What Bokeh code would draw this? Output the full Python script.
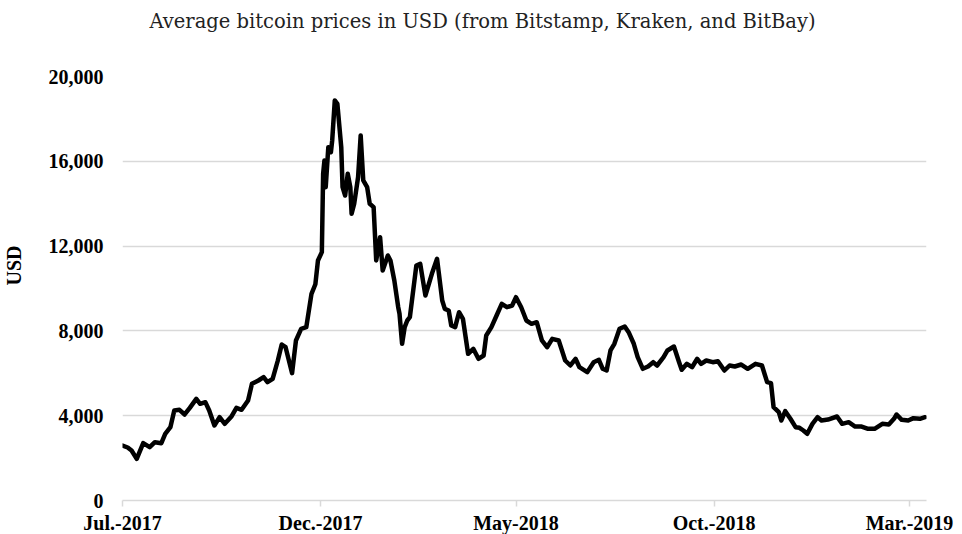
import pandas as pd
from bokeh.plotting import figure
from bokeh.models import (ColumnDataSource, FixedTicker, NumeralTickFormatter,
                          Range1d, Title)
from bokeh.embed import file_html
from bokeh.resources import INLINE

title_text = "Average bitcoin prices in USD (from Bitstamp, Kraken, and BitBay)"
y_label = "USD"

dates = [
    "2017-07-01", "2017-07-05", "2017-07-08", "2017-07-12", "2017-07-17", "2017-07-22",
    "2017-07-26", "2017-07-31", "2017-08-03", "2017-08-07", "2017-08-10", "2017-08-14",
    "2017-08-18", "2017-08-22", "2017-08-27", "2017-08-30", "2017-09-03", "2017-09-06",
    "2017-09-10", "2017-09-14", "2017-09-18", "2017-09-23", "2017-09-27", "2017-10-01",
    "2017-10-06", "2017-10-09", "2017-10-14", "2017-10-18", "2017-10-21", "2017-10-25",
    "2017-10-29", "2017-11-01", "2017-11-04", "2017-11-09", "2017-11-12", "2017-11-16",
    "2017-11-20", "2017-11-24", "2017-11-27", "2017-11-29", "2017-12-02", "2017-12-03",
    "2017-12-04", "2017-12-05", "2017-12-07", "2017-12-09", "2017-12-10", "2017-12-12",
    "2017-12-14", "2017-12-17", "2017-12-18", "2017-12-20", "2017-12-22", "2017-12-24",
    "2017-12-25", "2017-12-27", "2017-12-30", "2018-01-01", "2018-01-03", "2018-01-06",
    "2018-01-08", "2018-01-11", "2018-01-13", "2018-01-16", "2018-01-18", "2018-01-22",
    "2018-01-24", "2018-01-27", "2018-01-30", "2018-01-31", "2018-02-02", "2018-02-04",
    "2018-02-06", "2018-02-08", "2018-02-13", "2018-02-16", "2018-02-20", "2018-02-25",
    "2018-03-01", "2018-03-05", "2018-03-07", "2018-03-10", "2018-03-12", "2018-03-15",
    "2018-03-18", "2018-03-21", "2018-03-25", "2018-03-29", "2018-04-02", "2018-04-06",
    "2018-04-08", "2018-04-12", "2018-04-16", "2018-04-20", "2018-04-24", "2018-04-28",
    "2018-05-01", "2018-05-05", "2018-05-09", "2018-05-13", "2018-05-17", "2018-05-21",
    "2018-05-25", "2018-05-29", "2018-06-03", "2018-06-08", "2018-06-12", "2018-06-16",
    "2018-06-19", "2018-06-25", "2018-06-30", "2018-07-04", "2018-07-07", "2018-07-10",
    "2018-07-13", "2018-07-16", "2018-07-20", "2018-07-24", "2018-07-27", "2018-07-31",
    "2018-08-03", "2018-08-07", "2018-08-11", "2018-08-15", "2018-08-18", "2018-08-23",
    "2018-08-26", "2018-08-31", "2018-09-04", "2018-09-06", "2018-09-10", "2018-09-14",
    "2018-09-18", "2018-09-21", "2018-09-25", "2018-09-30", "2018-10-04", "2018-10-09",
    "2018-10-13", "2018-10-17", "2018-10-22", "2018-10-27", "2018-11-02", "2018-11-07",
    "2018-11-11", "2018-11-14", "2018-11-16", "2018-11-20", "2018-11-22", "2018-11-25",
    "2018-11-29", "2018-12-03", "2018-12-06", "2018-12-09", "2018-12-12", "2018-12-16",
    "2018-12-20", "2018-12-23", "2018-12-28", "2019-01-04", "2019-01-08", "2019-01-13",
    "2019-01-18", "2019-01-23", "2019-01-28", "2019-02-02", "2019-02-08", "2019-02-13",
    "2019-02-17", "2019-02-19", "2019-02-23", "2019-02-28", "2019-03-04", "2019-03-09",
    "2019-03-13",
]

prices = [
    2594, 2500, 2358, 1965, 2704, 2515,
    2751, 2704, 3145, 3459, 4245, 4277,
    4057, 4371, 4795, 4560, 4638, 4245,
    3538, 3930, 3616, 3950, 4371, 4277,
    4717, 5503, 5660, 5817, 5582, 5739,
    6604, 7359, 7231, 6006, 7548, 8098,
    8176, 9751, 10200, 11321, 11714, 15411,
    16038, 14779, 16666, 16430, 16981, 18868,
    18711, 16666, 14779, 14387, 15411, 14779,
    13524, 13996, 15254, 17217, 15096, 14779,
    13996, 13839, 11321, 12420, 10849, 11557,
    11321, 10378, 9118, 8807, 7392, 8176,
    8491, 8646, 11085, 11163, 9670, 10692,
    11400, 9434, 9041, 8962, 8255, 8176,
    8882, 8570, 6920, 7156, 6684, 6840,
    7783, 8176, 8726, 9278, 9118, 9198,
    9590, 9118, 8491, 8335, 8411, 7548,
    7231, 7627, 7548, 6604, 6368, 6684,
    6288, 6052, 6524, 6637, 6212, 6132,
    7076, 7392, 8098, 8208, 7939, 7392,
    6760, 6212, 6321, 6524, 6368, 6760,
    7076, 7264, 6524, 6165, 6448, 6288,
    6684, 6448, 6604, 6524, 6571, 6132,
    6368, 6321, 6415, 6212, 6448, 6368,
    5582, 5535, 4401, 4166, 3774, 4213,
    3854, 3459, 3428, 3302, 3145, 3616,
    3930, 3774, 3820, 3962, 3616, 3695,
    3490, 3490, 3380, 3380, 3616, 3585,
    3854, 4057, 3805, 3774, 3884, 3854,
    3930,
]

x_tick_dates = ["2017-07-01", "2017-12-01", "2018-05-01", "2018-10-01", "2019-03-01"]
x_tick_labels = ["Jul.-2017", "Dec.-2017", "May-2018", "Oct.-2018", "Mar.-2019"]
y_ticks = [0, 4000, 8000, 12000, 16000, 20000]

x_start = "2017-07-01"
x_end = "2019-03-14 03:00"

source = ColumnDataSource(data=dict(date=pd.to_datetime(dates), price=prices))

def ms(s):
    return float(pd.Timestamp(s).value // 10**6)

p = figure(frame_width=804, frame_height=424, x_axis_type="datetime",
           output_backend="svg", toolbar_location=None,
           x_range=Range1d(ms(x_start), ms(x_end)),
           y_range=Range1d(0, 20000),
           min_border_left=121, min_border_right=37,
           min_border_top=76, min_border_bottom=34)

p.outline_line_color = None
p.background_fill_color = "white"
p.border_fill_color = "white"

p.line(x="date", y="price", source=source, line_width=4.5, line_color="black",
       line_join="round", line_cap="round")

serif = "Liberation Serif"

# spacer between frame and title, then the title itself
p.add_layout(Title(text=" ", text_font_size="1px", standoff=41), "above")
p.add_layout(Title(text=title_text, align="left", offset=27, standoff=0,
                   text_font="DejaVu Serif", text_font_size="19.5px",
                   text_font_style="normal", text_color="#222222"), "above")

# x axis
tick_vals = [ms(d) for d in x_tick_dates]
p.xaxis.ticker = FixedTicker(ticks=tick_vals)
p.xaxis.major_label_overrides = {v: lab for v, lab in zip(tick_vals, x_tick_labels)}
p.xaxis.axis_line_color = "#d9d9d9"
p.xaxis.axis_line_width = 1.5
p.xaxis.major_tick_line_color = "#d9d9d9"
p.xaxis.major_tick_line_width = 1.5
p.xaxis.major_tick_in = 0
p.xaxis.major_tick_out = 6
p.xaxis.minor_tick_line_color = None
p.xaxis.major_label_standoff = 5
p.xaxis.major_label_text_font = serif
p.xaxis.major_label_text_font_size = "20px"
p.xaxis.major_label_text_font_style = "bold"
p.xaxis.major_label_text_color = "black"

# y axis
p.yaxis.ticker = FixedTicker(ticks=y_ticks)
p.yaxis.formatter = NumeralTickFormatter(format="0,0")
p.yaxis.axis_line_color = None
p.yaxis.major_tick_line_color = None
p.yaxis.minor_tick_line_color = None
p.yaxis.major_tick_out = 0
p.yaxis.major_tick_in = 0
p.yaxis.major_label_standoff = 19
p.yaxis.major_label_text_font = serif
p.yaxis.major_label_text_font_size = "20px"
p.yaxis.major_label_text_font_style = "bold"
p.yaxis.major_label_text_color = "black"

# spacer beside the y tick labels, then the y axis title
p.add_layout(Title(text=" ", text_font_size="1px", standoff=18), "left")
p.add_layout(Title(text=y_label, align="left", offset=215, standoff=0,
                   text_font=serif, text_font_size="20px",
                   text_font_style="bold", text_color="black"), "left")

p.xgrid.grid_line_color = None
p.ygrid.grid_line_color = "#d9d9d9"
p.ygrid.grid_line_width = 1.5

open("out.html", "w").write(file_html(p, INLINE))
